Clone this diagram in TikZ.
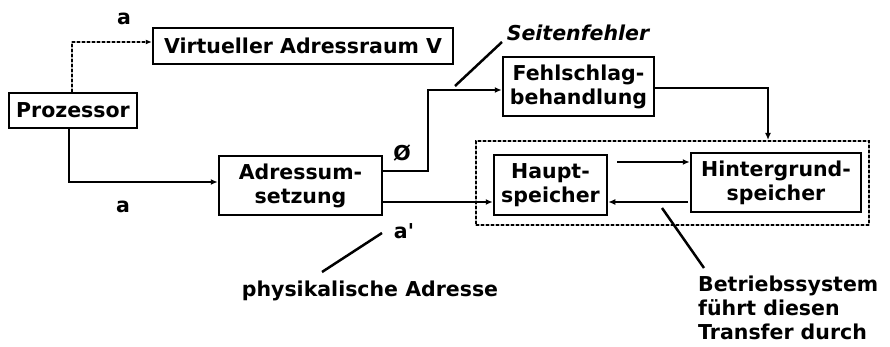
\documentclass[tikz,border=0pt]{standalone}
\usepackage{fontspec}
\setmainfont{DejaVu Sans}
\usetikzlibrary{arrows.meta,calc}
\begin{document}
\begin{tikzpicture}[x=1pt,y=-1pt,
  every node/.style={font=\fontsize{20.5}{24}\selectfont\bfseries},
  box/.style={draw, line width=2.5pt, inner sep=0pt, align=center},
  lbl/.style={inner sep=0pt},
  ln/.style={line width=2.5pt},
  arr/.style={line width=2.5pt, -{Latex[length=7pt,width=6pt]}},
  dashln/.style={line width=2pt, draw=black, dash pattern=on 3pt off 2pt,
     preaction={draw=gray!55, solid, line width=2pt}},
]
\useasboundingbox (0,0) rectangle (890,347);
% boxes
\node[box, minimum width=128pt, minimum height=35pt] (proz) at (73,110.5) {Prozessor};
\node[box, minimum width=300pt, minimum height=36pt] (virt) at (303,46) {Virtueller Adressraum V};
\node[box, minimum width=163pt, minimum height=59pt] (adr) at (300.5,185.5) {Adressum-\\setzung};
\node[box, minimum width=151pt, minimum height=59pt] (fehl) at (578.5,86.5) {Fehlschlag-\\behandlung};
\node[draw, dashln, inner sep=0pt, minimum width=393pt, minimum height=84pt] (dbox) at (672.5,183) {};
\node[box, minimum width=113pt, minimum height=60pt] (haupt) at (550.5,185) {Haupt-\\speicher};
\node[box, minimum width=170pt, minimum height=59pt] (hint) at (776,182.5) {Hintergrund-\\speicher};
% labels
\node[lbl] (la1) at (124,19) {a};
\node[lbl] (la2) at (123,207) {a};
\node[lbl] (lnull) at (402,153) {Ø};
\node[lbl, font=\fontsize{20.5}{24}\selectfont\bfseries\itshape] (lseit) at (578,33) {Seitenfehler};
\node[lbl] (lastr) at (404,231) {a{\addfontfeature{Ligatures=TeXOff}'}};
\node[lbl] (lphys) at (370,291) {physikalische Adresse};
\node[lbl, anchor=north west, align=left, font=\fontsize{20.5}{24}\selectfont\bfseries] (lbs) at (698,276) {Betriebssystem\\führt diesen\\Transfer durch};
% helper coordinates
\coordinate (c1) at (72,42);
\coordinate (c2) at (69,182);
\coordinate (c3) at (428,90);
\coordinate (c4) at (768,88);
\coordinate (c5) at (382,202);
\coordinate (c6) at (617,162);
\coordinate (c7) at (688,202);
\coordinate (s1) at (455,86);
\coordinate (s2) at (502,42);
\coordinate (p1) at (382,233);
\coordinate (p2) at (322,272);
\coordinate (b1) at (662,208);
\coordinate (b2) at (704,268);
% connectors
\draw[dashln, -{Latex[length=6pt,width=5pt]}] (proz.north -| c1) -- (c1) -- (c1 -| virt.west);
\draw[arr] (proz.south -| c2) -- (c2) -- (c2 -| adr.west);
\draw[arr] (adr.east |- 0,171) -| (c3) -- (c3 -| fehl.west);
\draw[arr] (fehl.east |- c4) -| (c4) -- (c4 |- dbox.north);
\draw[arr] (c5) -- (c5 -| haupt.west);
\draw[arr] (c6) -- (c6 -| hint.west);
\draw[arr] (c7) -- (c7 -| haupt.east);
\draw[ln] (s1) -- (s2);
\draw[ln] (p1) -- (p2);
\draw[ln] (b1) -- (b2);
\end{tikzpicture}
\end{document}
